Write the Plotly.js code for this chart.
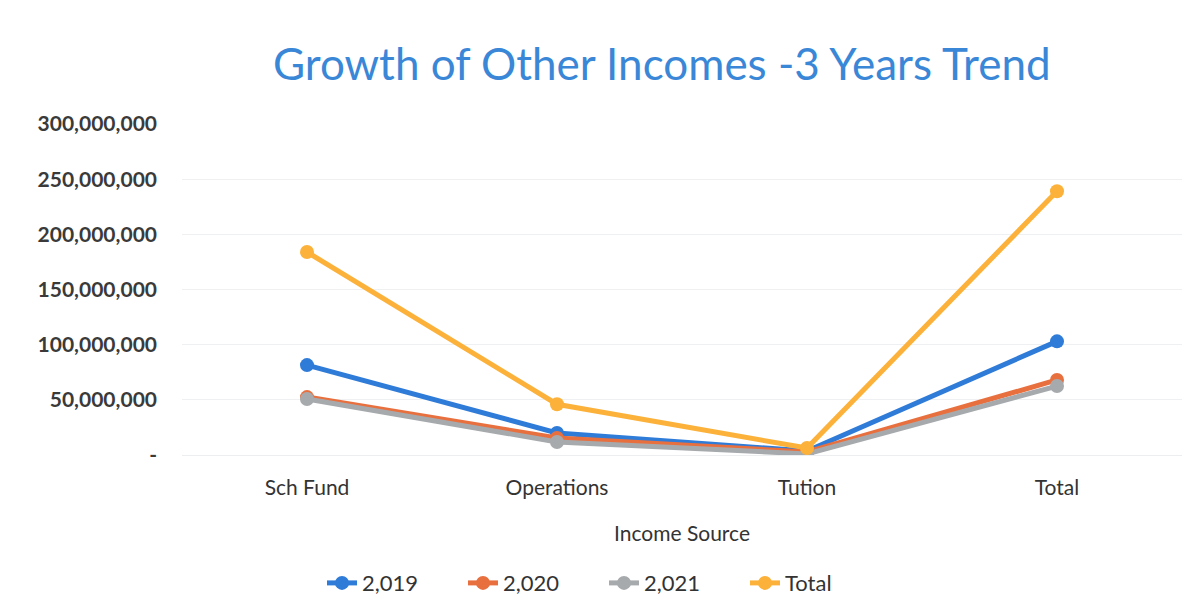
<!DOCTYPE html>
<html>
<head>
<meta charset="utf-8">
<script src="https://cdn.plot.ly/plotly-3.0.1.min.js"></script>
<style>html,body{margin:0;padding:0;background:#fff;}#chart{width:1199px;height:616px;}</style>
</head>
<body>
<div id="chart"></div>
<script>
const categories = ["Sch Fund", "Operations", "Tution", "Total"];
const seriesNames = ["2,019", "2,020", "2,021", "Total"];
const values2019 = [81500000, 20000000, 3600000, 103000000];
const values2020 = [52500000, 15400000, 2700000, 68000000];
const values2021 = [50700000, 11800000, 1000000, 62500000];
const valuesTotal = [184000000, 46000000, 6300000, 239000000];
const yTickVals = [0, 50000000, 100000000, 150000000, 200000000, 250000000, 300000000];
const yTickText = ["-", "50,000,000", "100,000,000", "150,000,000", "200,000,000", "250,000,000", "300,000,000"];

const colors = ["#2f7bd8", "#e8703f", "#a7aaad", "#fcb23a"];
const allValues = [values2019, values2020, values2021, valuesTotal];

const traces = allValues.map((v, i) => ({
  type: "scatter",
  mode: "lines+markers",
  x: categories,
  y: v,
  name: seriesNames[i],
  line: {color: colors[i], width: 5},
  marker: {color: colors[i], size: 14}
}));

const layout = {
  width: 1199,
  height: 616,
  margin: {l: 182, r: 17, t: 124, b: 161},
  paper_bgcolor: "#ffffff",
  plot_bgcolor: "#ffffff",
  font: {family: "Lato, 'Open Sans', sans-serif", color: "#404040"},
  title: {
    text: "Growth of Other Incomes -3 Years Trend",
    font: {size: 44, color: "#3a87d8", family: "Lato, 'Open Sans', sans-serif"},
    x: 0.552, xanchor: "center",
    y: 0.895, yanchor: "middle"
  },
  xaxis: {
    type: "category",
    range: [-0.5, 3.5],
    showgrid: false,
    showline: true,
    linecolor: "#eceef0",
    linewidth: 1,
    zeroline: false,
    tickfont: {size: 21, color: "#333333", family: "Lato, sans-serif"},
    ticklabelstandoff: 14,
    title: {text: "Income Source", font: {size: 21, color: "#333333"}, standoff: 28}
  },
  yaxis: {
    range: [0, 300000000],
    tickvals: yTickVals,
    ticktext: yTickText,
    showgrid: true,
    gridcolor: "#eef0f2",
    gridwidth: 1,
    zeroline: false,
    showline: false,
    tickfont: {size: 21, color: "#3a3a3a", family: "Lato, sans-serif", weight: "bold"},
    ticklabelstandoff: 24
  },
  legend: {
    orientation: "h",
    x: 0.14, xanchor: "left",
    y: -0.387, yanchor: "middle",
    font: {size: 22, color: "#333333"},
    entrywidth: 96,
    entrywidthmode: "pixels",
    tracegroupgap: 0
  },
  showlegend: true
};

Plotly.newPlot("chart", traces, layout, {displayModeBar: false, staticPlot: true});
</script>
</body>
</html>
